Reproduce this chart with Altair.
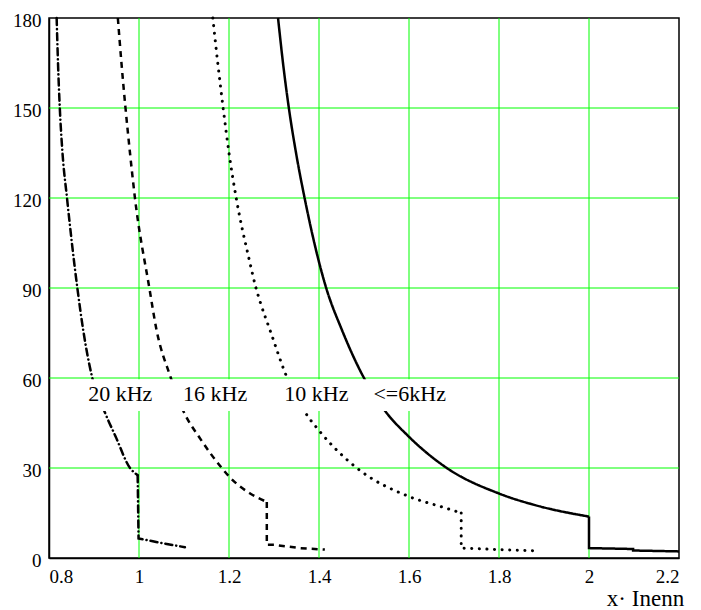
import altair as alt
import pandas as pd

# ---- data ----
# 20 kHz (dash-dot): curved part, then drop and tail
x20 = [0.817, 0.820, 0.824, 0.830, 0.840, 0.863, 0.876, 0.895, 0.924, 0.948, 0.980, 0.997]
y20 = [180, 165, 150, 135, 120, 90, 76, 60.8, 48.6, 40.5, 30, 27.6]
x20t = [0.997, 0.999, 1.050, 1.102]
y20t = [27.6, 6.5, 5.0, 3.6]
# 16 kHz (dashed)
x16 = [0.953, 0.961, 0.970, 0.980, 0.991, 1.023, 1.039, 1.069, 1.098, 1.136, 1.184, 1.200, 1.247, 1.284]
y16 = [180, 165, 150, 135, 120, 90, 76, 60.8, 49.2, 39.8, 30, 27.2, 21.5, 18.7]
x16t = [1.284, 1.284, 1.300, 1.358, 1.413]
y16t = [18.7, 4.4, 4.4, 3.3, 2.8]
# 10 kHz (dotted)
x10 = [1.164, 1.175, 1.187, 1.200, 1.216, 1.245, 1.260, 1.270, 1.291, 1.328, 1.369, 1.400, 1.484, 1.600, 1.676, 1.716]
y10 = [180, 165, 150, 135, 120, 99.4, 90, 85, 76, 60.5, 48.6, 42.5, 30, 20.5, 16.9, 15.0]
x10t = [1.716, 1.716, 1.800, 1.884]
y10t = [15.0, 3.3, 2.8, 2.4]
# <=6 kHz (solid)
x6 = [1.309, 1.320, 1.333, 1.349, 1.368, 1.416, 1.451, 1.500, 1.547, 1.600, 1.684, 1.800, 1.891, 2.000]
y6 = [180, 165, 150, 135, 120, 90, 76, 60, 49, 40.4, 30, 21.5, 17.2, 13.8]
x6t = [2.000, 2.000, 2.098, 2.098, 2.200]
y6t = [13.8, 3.3, 3.0, 2.5, 2.2]

labels = ["20 kHz", "16 kHz", "10 kHz", "<=6kHz"]
label_x = [0.887, 1.098, 1.323, 1.521]
label_y = [52.4, 52.4, 52.4, 52.4]

band_x = [0.87, 1.66]
band_y = [49.0, 59.6]

x_ticks = [0.8, 1.0, 1.2, 1.4, 1.6, 1.8, 2.0, 2.2]
y_ticks = [0, 30, 60, 90, 120, 150, 180]

FONT = "Liberation Serif, Times New Roman, DejaVu Serif, serif"
GRID = "#00ff00"

xs = alt.Scale(domain=[0.8, 2.2], nice=False, zero=False)
ys = alt.Scale(domain=[0, 180], nice=False)

x_axis = alt.Axis(values=x_ticks, grid=False, labelPadding=9,
                  labelExpr="format(datum.value, '~g')",
                  title="x\u00b7 Inenn", titleX=596, titleY=47,
                  titleAlign="center", titleBaseline="alphabetic")
y_axis = alt.Axis(values=y_ticks, grid=False, labelPadding=8, labelBaseline="middle",
                  labelOffset=2, title=None)

# grid lines drawn as rules through the scales (interior lines only)
vgrid = alt.Chart(pd.DataFrame({"x": x_ticks})).mark_rule(color=GRID, strokeWidth=1).encode(
    x=alt.X("x:Q", scale=xs, axis=x_axis)).transform_filter("datum.x > 0.81 && datum.x < 2.19")
hgrid = alt.Chart(pd.DataFrame({"y": y_ticks})).mark_rule(color=GRID, strokeWidth=1).encode(
    y=alt.Y("y:Q", scale=ys, axis=y_axis)).transform_filter("datum.y > 1 && datum.y < 179")


def series(xv, yv, dash, cap, width, interp):
    df = pd.DataFrame({"x": xv, "y": yv, "i": list(range(len(xv)))})
    return alt.Chart(df).mark_line(color="black", strokeWidth=width,
                                   strokeDash=dash, strokeCap=cap,
                                   interpolate=interp).encode(
        x=alt.X("x:Q", scale=xs, axis=x_axis),
        y=alt.Y("y:Q", scale=ys, axis=y_axis),
        order="i:Q",
    )


D20 = [7, 4, 0.1, 4]
D16 = [6, 5]
D10 = [0.1, 7.5]
layers = [
    vgrid, hgrid,
    series(x20, y20, D20, "round", 2.5, "monotone"),
    series(x20t, y20t, D20, "round", 2.5, "linear"),
    series(x16, y16, D16, "butt", 2.5, "monotone"),
    series(x16t, y16t, D16, "butt", 2.5, "linear"),
    series(x10, y10, D10, "round", 3, "monotone"),
    series(x10t, y10t, D10, "round", 3, "linear"),
    series(x6, y6, [1, 0], "butt", 2.5, "monotone"),
    series(x6t, y6t, [1, 0], "butt", 2.5, "linear"),
]

band = alt.Chart(pd.DataFrame({"x": [band_x[0]], "x2": [band_x[1]],
                               "y": [band_y[0]], "y2": [band_y[1]]})).mark_rect(
    color="white", opacity=1).encode(
    x=alt.X("x:Q", scale=xs), x2="x2:Q", y=alt.Y("y:Q", scale=ys), y2="y2:Q")

txt = alt.Chart(pd.DataFrame({"t": labels, "x": label_x, "y": label_y})).mark_text(
    align="left", baseline="alphabetic", font=FONT, fontSize=22, color="black").encode(
    x=alt.X("x:Q", scale=xs), y=alt.Y("y:Q", scale=ys), text="t:N")

chart = alt.layer(*layers, band, txt).properties(
    width=630, height=540,
    autosize=alt.AutoSizeParams(type="none"),
    padding={"left": 41, "top": 10, "right": 14, "bottom": 60},
).configure_view(stroke="black", strokeWidth=1.5).configure_axis(
    grid=False, domainColor="black", domainWidth=1.5, ticks=False,
    labelFont=FONT, labelFontSize=19, labelColor="black",
    titleFont=FONT, titleFontSize=23, titleFontWeight="normal", titleColor="black",
)

chart.save("out.html", embed_options={"renderer": "svg", "actions": False})
